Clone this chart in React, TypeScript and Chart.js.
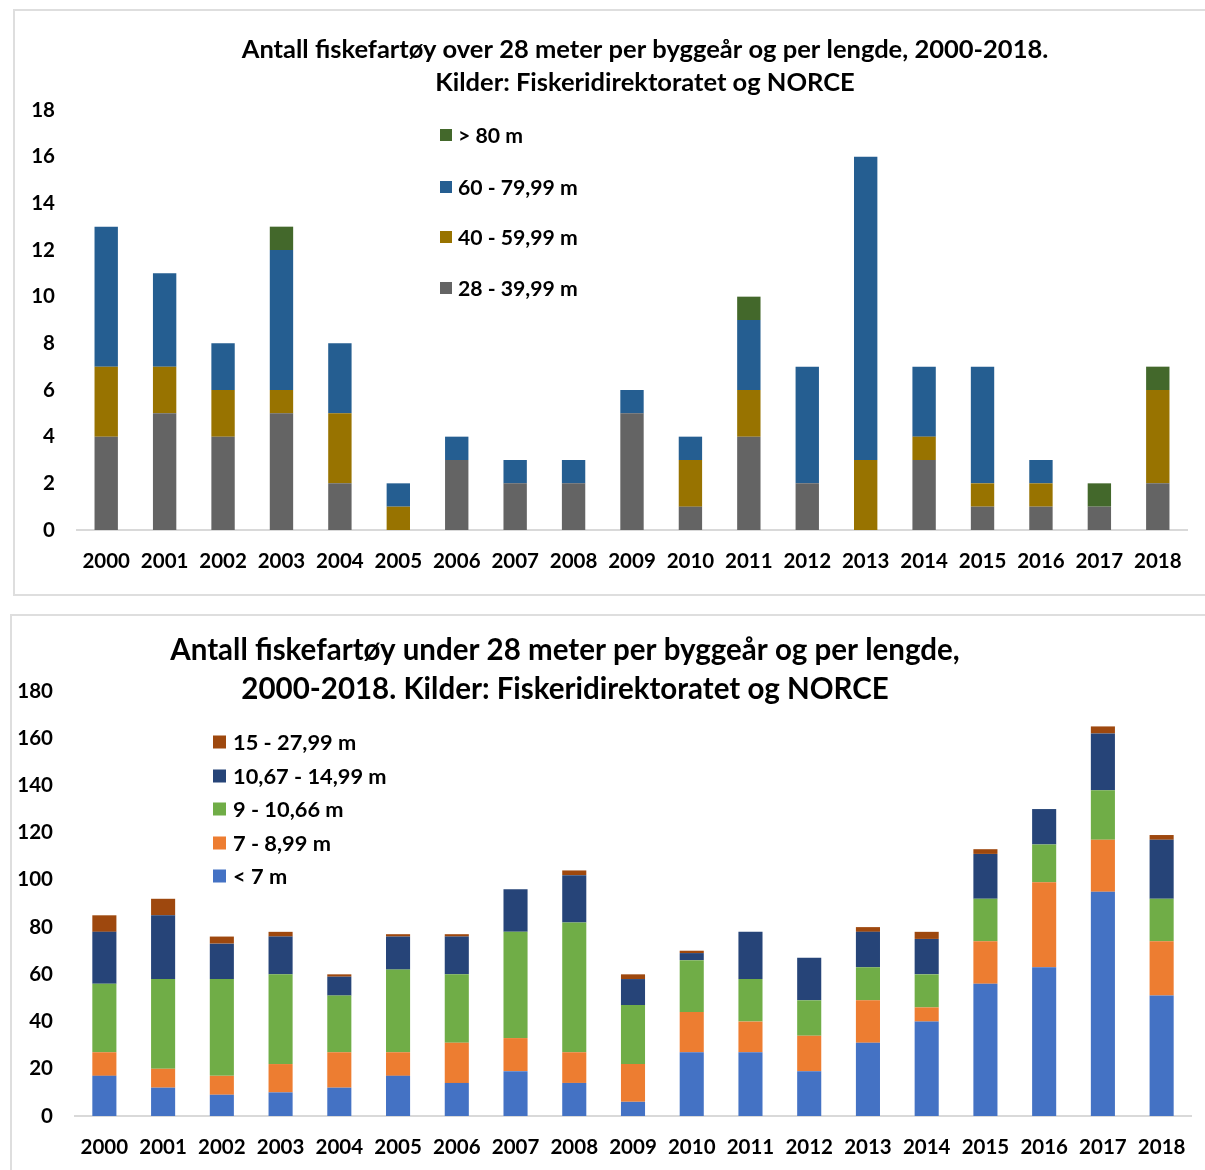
import React, { useEffect, useRef } from "react";
import { Chart, registerables } from "chart.js";

Chart.register(...registerables);

const years = ["2000", "2001", "2002", "2003", "2004", "2005", "2006", "2007", "2008", "2009", "2010", "2011", "2012", "2013", "2014", "2015", "2016", "2017", "2018"];

// Top chart: vessels over 28 m
const over28Labels = ["28 - 39,99 m", "40 - 59,99 m", "60 - 79,99 m", "> 80 m"];
const len28to40 = [4, 5, 4, 5, 2, 0, 3, 2, 2, 5, 1, 4, 2, 0, 3, 1, 1, 1, 2];
const len40to60 = [3, 2, 2, 1, 3, 1, 0, 0, 0, 0, 2, 2, 0, 3, 1, 1, 1, 0, 4];
const len60to80 = [6, 4, 2, 6, 3, 1, 1, 1, 1, 1, 1, 3, 5, 13, 3, 5, 1, 0, 0];
const len80plus = [0, 0, 0, 1, 0, 0, 0, 0, 0, 0, 0, 1, 0, 0, 0, 0, 0, 1, 1];
const over28Ticks = { min: 0, max: 18, step: 2 };

// Bottom chart: vessels under 28 m
const under28Labels = ["< 7 m", "7 - 8,99 m", "9 - 10,66 m", "10,67 - 14,99 m", "15 - 27,99 m"];
const lenUnder7 = [17, 12, 9, 10, 12, 17, 14, 19, 14, 6, 27, 27, 19, 31, 40, 56, 63, 95, 51];
const len7to9 = [10, 8, 8, 12, 15, 10, 17, 14, 13, 16, 17, 13, 15, 18, 6, 18, 36, 22, 23];
const len9to1066 = [29, 38, 41, 38, 24, 35, 29, 45, 55, 25, 22, 18, 15, 14, 14, 18, 16, 21, 18];
const len1067to15 = [22, 27, 15, 16, 8, 14, 16, 18, 20, 11, 3, 20, 18, 15, 15, 19, 15, 24, 25];
const len15to28 = [7, 7, 3, 2, 1, 1, 1, 0, 2, 2, 1, 0, 0, 2, 3, 2, 0, 3, 2];
const under28Ticks = { min: 0, max: 180, step: 20 };

const title1 = ["Antall fiskefartøy over 28 meter per byggeår og per lengde, 2000-2018.", "Kilder: Fiskeridirektoratet og NORCE"];
const title2 = ["Antall fiskefartøy under 28 meter per byggeår og per lengde,", "2000-2018. Kilder: Fiskeridirektoratet og NORCE"];

const FONT = "Lato, 'Open Sans', sans-serif";

type OverlayCfg = {
  lines: string[];
  titleSize: number;
  titleX: number;
  titleYs: number[];
  legendX: number;
  legendYs: number[];
  legendSize: number;
  box: number;
  gap: number;
};

function overlayPlugin(cfg: OverlayCfg) {
  return {
    id: "overlay",
    afterDraw(chart: any) {
      const ctx = chart.ctx as CanvasRenderingContext2D;
      ctx.save();
      ctx.fillStyle = "#000";
      ctx.textAlign = "center";
      ctx.textBaseline = "middle";
      ctx.font = `bold ${cfg.titleSize}px ${FONT}`;
      cfg.lines.forEach((l, i) => ctx.fillText(l, cfg.titleX, cfg.titleYs[i]));
      const ds = chart.data.datasets.slice().reverse();
      ctx.font = `bold ${cfg.legendSize}px ${FONT}`;
      ctx.textAlign = "left";
      ds.forEach((d: any, i: number) => {
        const y = cfg.legendYs[i];
        ctx.fillStyle = d.backgroundColor;
        ctx.fillRect(cfg.legendX, y - cfg.box / 2, cfg.box, cfg.box);
        ctx.fillStyle = "#000";
        ctx.fillText(d.label, cfg.legendX + cfg.box + cfg.gap, y + 1);
      });
      ctx.restore();
    },
  };
}

function makeOptions(ticks: { min: number; max: number; step: number }, yWidth: number, padding: any, barPct: number) {
  const tickFont = { family: FONT, weight: "bold" as const, size: 20.5 };
  return {
    animation: false as const,
    responsive: false,
    devicePixelRatio: 1,
    layout: { padding },
    datasets: { bar: { barPercentage: barPct, categoryPercentage: 1 } },
    plugins: { legend: { display: false }, title: { display: false }, tooltip: { enabled: false } },
    scales: {
      x: {
        stacked: true,
        grid: { display: false, drawTicks: false },
        border: { display: true, color: "#d9d9d9", width: 2 },
        ticks: { color: "#000", font: tickFont, padding: 19, maxRotation: 0, autoSkip: false },
        afterFit: (s: any) => {
          s.height = 40;
        },
      },
      y: {
        stacked: true,
        min: ticks.min,
        max: ticks.max,
        grid: { display: false, drawTicks: false },
        border: { display: false },
        ticks: { stepSize: ticks.step, color: "#000", font: tickFont, padding: 22 },
        afterFit: (s: any) => {
          s.width = yWidth;
        },
      },
    },
  };
}

function TopChart() {
  const ref = useRef<HTMLCanvasElement>(null);
  useEffect(() => {
    const colors = ["#646464", "#987300", "#255E91", "#43682B"];
    const series = [len28to40, len40to60, len60to80, len80plus];
    const chart = new Chart(ref.current!, {
      type: "bar",
      data: {
        labels: years,
        datasets: series.map((d, i) => ({ label: over28Labels[i], data: d, backgroundColor: colors[i], borderWidth: 0 })),
      },
      options: makeOptions(over28Ticks, 77, { top: 110, bottom: 30, left: 0, right: 18 }, 0.4) as any,
      plugins: [
        overlayPlugin({
          lines: title1,
          titleSize: 25.5,
          titleX: 645,
          titleYs: [50, 83],
          legendX: 440,
          legendYs: [135, 187, 237, 288],
          legendSize: 21.2,
          box: 12,
          gap: 6,
        }),
      ],
    });
    return () => chart.destroy();
  }, []);
  return <canvas ref={ref} width={1205} height={600} style={{ position: "absolute", left: 0, top: 0, width: 1205, height: 600 }} />;
}

function BottomChart() {
  const ref = useRef<HTMLCanvasElement>(null);
  useEffect(() => {
    const colors = ["#4472C4", "#ED7D31", "#70AD47", "#264478", "#9E480E"];
    const series = [lenUnder7, len7to9, len9to1066, len1067to15, len15to28];
    const chart = new Chart(ref.current!, {
      type: "bar",
      data: {
        labels: years,
        datasets: series.map((d, i) => ({ label: under28Labels[i], data: d, backgroundColor: colors[i], borderWidth: 0 })),
      },
      options: makeOptions(under28Ticks, 75, { top: 91, bottom: 14, left: 0, right: 14 }, 0.41) as any,
      plugins: [
        overlayPlugin({
          lines: title2,
          titleSize: 29.5,
          titleX: 565,
          titleYs: [50, 89],
          legendX: 213,
          legendYs: [142, 176, 209, 243, 276],
          legendSize: 21.8,
          box: 13,
          gap: 7,
        }),
      ],
    });
    return () => chart.destroy();
  }, []);
  return <canvas ref={ref} width={1205} height={570} style={{ position: "absolute", left: 0, top: 600, width: 1205, height: 570 }} />;
}

export default function App() {
  return (
    <div style={{ position: "absolute", left: 0, top: 0, width: 1205, height: 1170, overflow: "hidden", background: "#fff" }}>
      <div style={{ position: "absolute", left: 13, top: 9, width: 1192, height: 583, border: "2px solid #dedede", borderRight: "none", boxSizing: "content-box" }} />
      <div style={{ position: "absolute", left: 10, top: 614, width: 1195, height: 600, border: "2px solid #dedede", borderRight: "none", borderBottom: "none" }} />
      <TopChart />
      <BottomChart />
    </div>
  );
}
